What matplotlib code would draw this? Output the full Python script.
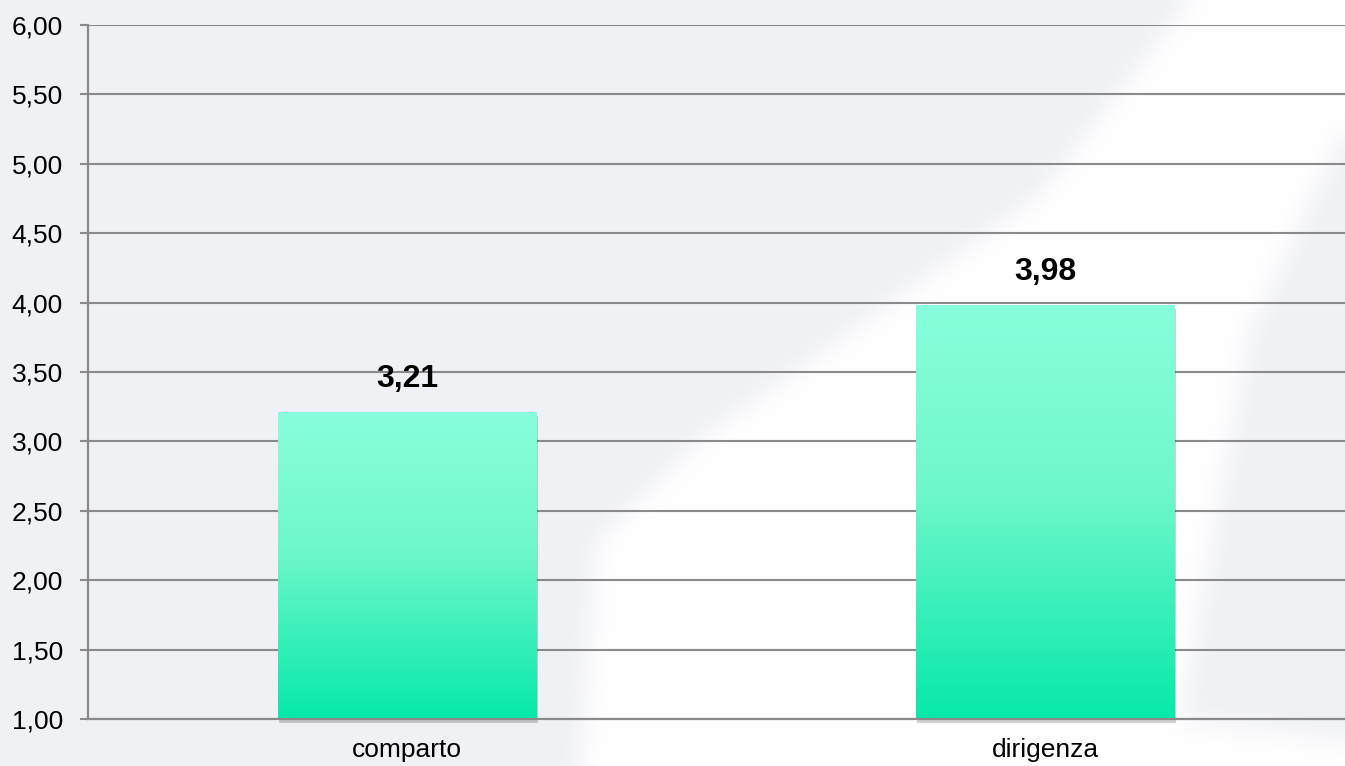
import numpy as np
import matplotlib
matplotlib.use("Agg")
import matplotlib.pyplot as plt
from matplotlib.path import Path
from matplotlib.colors import LinearSegmentedColormap
from matplotlib.ticker import FuncFormatter, MultipleLocator
from matplotlib.patches import Rectangle
from matplotlib import transforms

categories = ["comparto", "dirigenza"]
values = [3.21, 3.98]
value_labels = ["3,21", "3,98"]

W, H, DPI = 1345, 766, 100
BG_GRAY = np.array([240, 241, 245]) / 255.0
GRID = "#8a8a8a"
BAR_TOP, BAR_MID, BAR_BOT = "#88ffdc", "#6ff7cc", "#06e9a8"

plt.rcParams["font.family"] = ["Liberation Sans", "DejaVu Sans"]

fig = plt.figure(figsize=(W / DPI, H / DPI), dpi=DPI)

# background: light grey with a soft white diagonal swoosh
swoosh = Path([(581, 766), (597, 540), (700, 440), (770, 390), (1040, 195), (1190, 0),
               (1345, 0), (1345, 130), (1250, 330), (1180, 720), (1345, 740), (1345, 766),
               (581, 766)])
yy, xx = np.mgrid[0:H, 0:W]
m = swoosh.contains_points(np.column_stack([xx.ravel() + 0.5, yy.ravel() + 0.5])).reshape(H, W)
m = m.astype(float)


def box_blur(a, r):
    k = np.ones(2 * r + 1) / (2 * r + 1)
    a = np.apply_along_axis(lambda v: np.convolve(np.pad(v, r, mode="edge"), k, "valid"), 1, a)
    a = np.apply_along_axis(lambda v: np.convolve(np.pad(v, r, mode="edge"), k, "valid"), 0, a)
    return a


m = box_blur(box_blur(m, 14), 14)
bg = BG_GRAY[None, None, :] * (1 - m[..., None]) + m[..., None]
fig.figimage(bg, 0, 0, zorder=-10, origin="upper")

ax = fig.add_axes([88 / W, (H - 719) / H, (1364 - 88) / W, (719 - 25) / H])
ax.set_facecolor("none")

x = np.arange(len(categories))
bars = ax.bar(x, [v - 1 for v in values], bottom=1, width=0.405, color="none", zorder=2)

cmap = LinearSegmentedColormap.from_list("bar", [(0, BAR_BOT), (0.55, BAR_MID), (1, BAR_TOP)])
grad = np.linspace(0, 1, 256).reshape(-1, 1)
shadow_tr = transforms.offset_copy(ax.transData, fig=fig, x=1.5, y=-4, units="dots")
for b, lab in zip(bars, value_labels):
    x0, y0, w, h = b.get_x(), b.get_y(), b.get_width(), b.get_height()
    ax.add_patch(Rectangle((x0, y0), w, h, transform=shadow_tr, facecolor="#000000",
                           alpha=0.18, lw=0, zorder=1.8, clip_on=False))
    ax.imshow(grad, extent=[x0, x0 + w, y0, y0 + h], origin="lower", aspect="auto",
              cmap=cmap, zorder=2, interpolation="bilinear")
    ax.annotate(lab, (x0 + w / 2, y0 + h), xytext=(0, 13), textcoords="offset points",
                ha="center", va="bottom", fontsize=23, fontweight="bold", color="black")

ax.set_xlim(-0.5, len(categories) - 0.5)
ax.set_ylim(1, 6)

ax.yaxis.set_major_locator(MultipleLocator(0.5))
ax.yaxis.set_major_formatter(FuncFormatter(lambda v, _: f"{v:.2f}".replace(".", ",")))
ax.yaxis.grid(True, color=GRID, lw=1.5, zorder=0.5)
ax.set_axisbelow(True)
ax.set_xticks(x)
ax.set_xticklabels(categories)
ax.tick_params(axis="x", length=0, pad=14, labelsize=19)
ax.tick_params(axis="y", length=6, width=1.5, color=GRID, pad=12, labelsize=19)

for s in ["top", "right"]:
    ax.spines[s].set_visible(False)
for s in ["left", "bottom"]:
    ax.spines[s].set_color(GRID)
    ax.spines[s].set_linewidth(1.6)
ax.spines["bottom"].set_zorder(3)

fig.savefig("out.png", dpi=DPI)
